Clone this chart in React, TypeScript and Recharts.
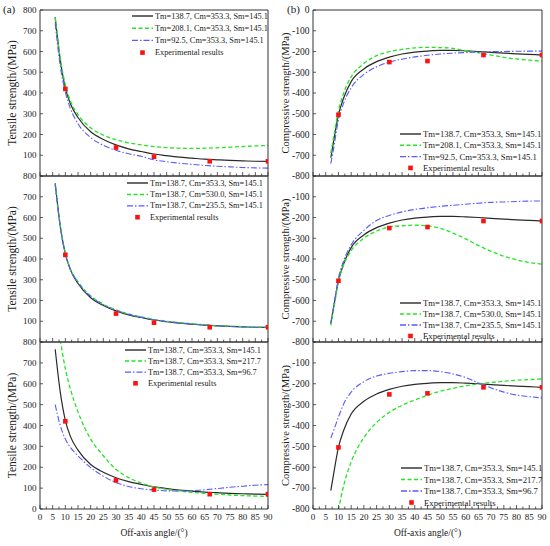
import React from 'react';
import { ComposedChart, Line, Scatter, XAxis, YAxis, Legend, Label } from 'recharts';

const FONT = '"Liberation Serif", "Times New Roman", Times, serif';
const AXIS = '#333333';
const TEXT = '#1a1a1a';

// ---------- data ----------
const xTicks = [0, 2.5, 5, 7.5, 10, 12.5, 15, 17.5, 20, 22.5, 25, 27.5, 30, 32.5, 35, 37.5, 40, 42.5, 45, 47.5, 50, 52.5, 55, 57.5, 60, 62.5, 65, 67.5, 70, 72.5, 75, 77.5, 80, 82.5, 85, 87.5, 90];
const tensileTicks = [0, 100, 200, 300, 400, 500, 600, 700, 800];
const compressiveTicks = [-800, -700, -600, -500, -400, -300, -200, -100, 0];

const tensileAngles = [6, 8, 10, 12, 15, 20, 25, 30, 35, 40, 45, 50, 55, 60, 65, 70, 75, 80, 85, 90];
const compressiveAngles = [7, 8, 10, 12, 15, 20, 25, 30, 35, 40, 45, 50, 55, 60, 65, 70, 75, 80, 85, 90];

// tensile, reference parameters (Tm=138.7, Cm=353.3, Sm=145.1)
const tensileRef = [765, 560, 425, 348, 282, 213, 176, 150, 131, 118, 106, 98, 91, 86, 81, 78, 75, 73, 71, 70];
// panel 1: Tm varied
const tensileTm208 = [762, 568, 440, 362, 296, 232, 197, 175, 160, 150, 142, 137, 134, 133, 134, 136, 139, 142, 145, 147];
const tensileTm92 = [735, 530, 405, 325, 252, 185, 148, 124, 107, 95, 78, 69, 62, 56, 51, 47, 44, 41, 39, 38];
// panel 2: Cm varied
const tensileCm530 = [760, 560, 428, 352, 290, 222, 182, 155, 135, 121, 109, 100, 93, 88, 83, 79, 76, 74, 72, 71];
const tensileCm235 = [758, 555, 425, 350, 288, 220, 180, 153, 133, 119, 107, 99, 92, 87, 82, 78, 75, 73, 71, 70];
// panel 3: Sm varied
const tensileSm217 = [null, 810, 672, 575, 465, 335, 255, 190, 150, 124, 106, 94, 86, 80, 75, 71, 67, 64, 62, 60];
const tensileSm96 = [500, 400, 335, 295, 255, 198, 157, 127, 108, 97, 91, 87, 86, 88, 92, 98, 104, 109, 114, 117];

// compressive, reference parameters
const compRef = [-712, -640, -505, -425, -345, -284, -249, -227, -212, -203, -198, -195, -195, -197, -200, -204, -208, -211, -214, -217];
const compTm208 = [-690, -620, -485, -402, -322, -258, -220, -201, -190, -183, -180, -181, -185, -196, -206, -217, -228, -236, -242, -247];
const compTm92 = [-740, -675, -530, -450, -375, -310, -274, -251, -237, -226, -218, -212, -208, -205, -203, -201, -200, -199, -198, -198];
const compCm530 = [-720, -652, -508, -430, -360, -300, -265, -246, -240, -237, -240, -252, -275, -303, -335, -363, -387, -404, -417, -425];
const compCm235 = [-708, -638, -492, -410, -332, -262, -214, -190, -173, -161, -153, -146, -141, -136, -131, -127, -125, -123, -121, -120];
const compSm217 = [null, null, -805, -690, -575, -458, -385, -337, -303, -278, -255, -236, -222, -210, -201, -194, -188, -183, -180, -177];
const compSm96 = [-460, -428, -360, -298, -240, -190, -163, -150, -142, -137, -137, -142, -153, -170, -196, -220, -240, -254, -262, -268];

// experiments
const expAngles = [10, 30, 45, 67, 90];
const expTensile = [420, 137, 93, 71, 71];
const expCompressive = [-505, -251, -246, -217, -217];

// legend labels
const namesTm = ['Tm=138.7, Cm=353.3, Sm=145.1', 'Tm=208.1, Cm=353.3, Sm=145.1', 'Tm=92.5, Cm=353.3, Sm=145.1'];
const namesCm = ['Tm=138.7, Cm=353.3, Sm=145.1', 'Tm=138.7, Cm=530.0, Sm=145.1', 'Tm=138.7, Cm=235.5, Sm=145.1'];
const namesSm = ['Tm=138.7, Cm=353.3, Sm=145.1', 'Tm=138.7, Cm=353.3, Sm=217.7', 'Tm=138.7, Cm=353.3, Sm=96.7'];
const expName = 'Experimental results';

// ---------- styles ----------
const STYLES = [
  { color: '#2a2a2a', dash: undefined as string | undefined, width: 1.2 },
  { color: '#22e622', dash: '4 2.5', width: 1.3 },
  { color: '#5a5aff', dash: '6 2 1.5 2', width: 1.1 },
];
const RED = '#ff1010';

type Series = { key: string; name: string; values: (number | null)[] };

type LegendCfg = { x: number; y: number; dy: number; fs: number };

type PanelProps = {
  left: number;
  top: number;
  width: number;
  height: number;
  plotTop: number;
  plotBottom: number;
  marginRight: number;
  yAxisWidth: number;
  angles: number[];
  series: Series[];
  exp: number[];
  yDomain: [number, number];
  yTicks: number[];
  hideTick: number | null;
  tickFs: number;
  legend: LegendCfg;
  bottom: boolean;
  yTitle: string;
  yTitleFs: number;
  yTitleX: number;
  corner?: { text: string; x: number; y: number };
};

function Panel(p: PanelProps) {
  const data = p.angles.map((a, i) => {
    const row: Record<string, number | null> = { angle: a };
    p.series.forEach((s) => {
      row[s.key] = s.values[i];
    });
    return row;
  });
  const expData = expAngles.map((a, i) => ({ angle: a, exp: p.exp[i] }));
  const plotH = p.height - p.plotTop - p.plotBottom;
  const plotLeft = p.yAxisWidth;
  const plotRight = p.width - p.marginRight;
  const plotCx = (plotLeft + plotRight) / 2;
  const plotCy = p.plotTop + plotH / 2;

  const lg = p.legend;
  const legendContent = () => (
    <svg width={150} height={lg.dy * 4 + 6} style={{ display: 'block', overflow: 'visible' }}>
      {p.series.map((s, i) => {
        const y = 6 + i * lg.dy;
        const st = STYLES[i];
        return (
          <g key={s.key}>
            <line x1={0} x2={21} y1={y} y2={y} stroke={st.color} strokeWidth={st.width + 0.2} strokeDasharray={st.dash} />
            <text x={23} y={y} dominantBaseline="central" fontFamily={FONT} fontSize={lg.fs} fill={TEXT}>
              {s.name}
            </text>
          </g>
        );
      })}
      <rect x={10.5 - 2.3} y={6 + 3 * lg.dy - 2.3} width={4.6} height={4.6} fill={RED} />
      <text x={23} y={6 + 3 * lg.dy} dominantBaseline="central" fontFamily={FONT} fontSize={lg.fs} fill={TEXT}>
        {expName}
      </text>
    </svg>
  );

  const yTitleContent = () => (
    <text
      x={p.yTitleX}
      y={plotCy}
      transform={`rotate(-90, ${p.yTitleX}, ${plotCy})`}
      textAnchor="middle"
      dominantBaseline="central"
      fontFamily={FONT}
      fontSize={p.yTitleFs}
      fill={TEXT}
    >
      {p.yTitle}
    </text>
  );

  const xTitleContent = () => (
    <text x={plotCx} y={p.plotTop + plotH + 24} textAnchor="middle" dominantBaseline="central" fontFamily={FONT} fontSize={9.5} fill={TEXT}>
      {'Off-axis angle/(°)'}
    </text>
  );

  const cornerContent = () =>
    p.corner ? (
      <text x={p.corner.x} y={p.corner.y} fontFamily={FONT} fontSize={11} fill={TEXT}>
        {p.corner.text}
      </text>
    ) : null;

  const xTick = (props: any) => {
    const { x, y, payload } = props;
    const v = payload.value as number;
    const major = v % 5 === 0;
    return (
      <g>
        <line x1={x} x2={x} y1={y} y2={y - (major ? 4 : 2.5)} stroke={AXIS} strokeWidth={0.8} />
        {p.bottom && major ? (
          <text x={x} y={y + 7.5} textAnchor="middle" dominantBaseline="central" fontFamily={FONT} fontSize={9} fill={TEXT}>
            {String(v)}
          </text>
        ) : null}
      </g>
    );
  };

  return (
    <div style={{ position: 'absolute', left: p.left, top: p.top, width: p.width, height: p.height }}>
      <ComposedChart
        width={p.width}
        height={p.height}
        data={data}
        margin={{ top: p.plotTop - 1, right: p.marginRight - 1, bottom: p.plotBottom - 1, left: 0 }}
      >
        <XAxis
          xAxisId="main"
          type="number"
          dataKey="angle"
          domain={[0, 90]}
          ticks={xTicks}
          interval={0}
          allowDataOverflow
          height={1}
          tickSize={0}
          tickMargin={0}
          tick={xTick}
          tickLine={false}
          axisLine={{ stroke: AXIS, strokeWidth: 1 }}
          label={p.bottom ? <Label content={xTitleContent} /> : undefined}
        />
        <XAxis
          xAxisId="top"
          orientation="top"
          type="number"
          dataKey="angle"
          domain={[0, 90]}
          height={1}
          tick={false}
          tickLine={false}
          axisLine={{ stroke: AXIS, strokeWidth: 1 }}
          label={p.corner ? <Label content={cornerContent} /> : undefined}
        />
        <YAxis
          yAxisId="main"
          type="number"
          domain={p.yDomain}
          ticks={p.yTicks}
          interval={0}
          allowDataOverflow
          width={p.yAxisWidth}
          tickSize={-3}
          tickMargin={6.5}
          tick={{ fontSize: p.tickFs, fill: TEXT, fontFamily: FONT }}
          tickFormatter={(v: number) => (p.hideTick !== null && v === p.hideTick ? '' : String(v))}
          tickLine={{ stroke: AXIS, strokeWidth: 0.8 }}
          axisLine={{ stroke: AXIS, strokeWidth: 1 }}
          label={<Label content={yTitleContent} />}
        />
        <YAxis
          yAxisId="right"
          orientation="right"
          type="number"
          domain={p.yDomain}
          allowDataOverflow
          width={1}
          tick={false}
          tickLine={false}
          axisLine={{ stroke: AXIS, strokeWidth: 1 }}
        />
        <Legend
          layout="horizontal"
          verticalAlign="middle"
          align="center"
          width={150}
          height={lg.dy * 4 + 6}
          wrapperStyle={{ position: 'absolute', left: lg.x, top: lg.y - 6, width: 150, margin: 0, padding: 0 }}
          content={legendContent}
        />
        {p.series.map((s, i) => (
          <Line
            key={s.key}
            xAxisId="main"
            yAxisId="main"
            type="monotone"
            dataKey={s.key}
            name={s.name}
            stroke={STYLES[i].color}
            strokeWidth={STYLES[i].width}
            strokeDasharray={STYLES[i].dash}
            dot={false}
            activeDot={false}
            isAnimationActive={false}
          />
        ))}
        <Scatter
          xAxisId="main"
          yAxisId="main"
          data={expData}
          dataKey="exp"
          name={expName}
          isAnimationActive={false}
          shape={(props: any) => (
            <rect x={props.cx - 2.3} y={props.cy - 2.3} width={4.6} height={4.6} fill={RED} />
          )}
        />
      </ComposedChart>
    </div>
  );
}

const mk = (names: string[], vals: (number | null)[][]): Series[] =>
  names.map((n, i) => ({ key: 's' + i, name: n, values: vals[i] }));

export default function App() {
  const leftCommon = {
    left: 0,
    width: 275,
    marginRight: 7,
    yAxisWidth: 40,
    angles: tensileAngles,
    exp: expTensile,
    yDomain: [0, 800] as [number, number],
    yTicks: tensileTicks,
    tickFs: 9,
    yTitle: 'Tensile strength/(MPa)',
    yTitleFs: 11.5,
    yTitleX: 12,
  };
  const rightCommon = {
    left: 275,
    width: 275,
    marginRight: 8,
    yAxisWidth: 38,
    angles: compressiveAngles,
    exp: expCompressive,
    yDomain: [-800, 0] as [number, number],
    yTicks: compressiveTicks,
    tickFs: 9.5,
    yTitle: 'Compressive strength/(MPa)',
    yTitleFs: 10.5,
    yTitleX: 10,
  };
  const row1 = { top: 0, height: 186, plotTop: 10, plotBottom: 10, bottom: false };
  const row2 = { top: 166, height: 186, plotTop: 10, plotBottom: 10, bottom: false };
  const row3 = { top: 332, height: 214, plotTop: 10, plotBottom: 37, bottom: true };

  return (
    <div style={{ position: 'absolute', left: 0, top: 0, width: 550, height: 546, background: '#fff', overflow: 'hidden' }}>
      <Panel
        {...leftCommon}
        {...row1}
        series={mk(namesTm, [tensileRef, tensileTm208, tensileTm92])}
        hideTick={0}
        legend={{ x: 132, y: 15.7, dy: 12.2, fs: 8.3 }}
        corner={{ text: '(a)', x: 3, y: 13 }}
      />
      <Panel
        {...leftCommon}
        {...row2}
        series={mk(namesCm, [tensileRef, tensileCm530, tensileCm235])}
        hideTick={0}
        legend={{ x: 127, y: 16.7, dy: 11.4, fs: 8.3 }}
      />
      <Panel
        {...leftCommon}
        {...row3}
        series={mk(namesSm, [tensileRef, tensileSm217, tensileSm96])}
        hideTick={null}
        legend={{ x: 125, y: 18, dy: 11.1, fs: 8.3 }}
      />
      <Panel
        {...rightCommon}
        {...row1}
        series={mk(namesTm, [compRef, compTm208, compTm92])}
        hideTick={null}
        legend={{ x: 125, y: 134.3, dy: 11.3, fs: 8.7 }}
        corner={{ text: '(b)', x: 12, y: 13 }}
      />
      <Panel
        {...rightCommon}
        {...row2}
        series={mk(namesCm, [compRef, compCm530, compCm235])}
        hideTick={0}
        legend={{ x: 125, y: 137.3, dy: 11, fs: 8.7 }}
      />
      <Panel
        {...rightCommon}
        {...row3}
        series={mk(namesSm, [compRef, compSm217, compSm96])}
        hideTick={0}
        legend={{ x: 126, y: 136.3, dy: 11.5, fs: 8.7 }}
      />
    </div>
  );
}
